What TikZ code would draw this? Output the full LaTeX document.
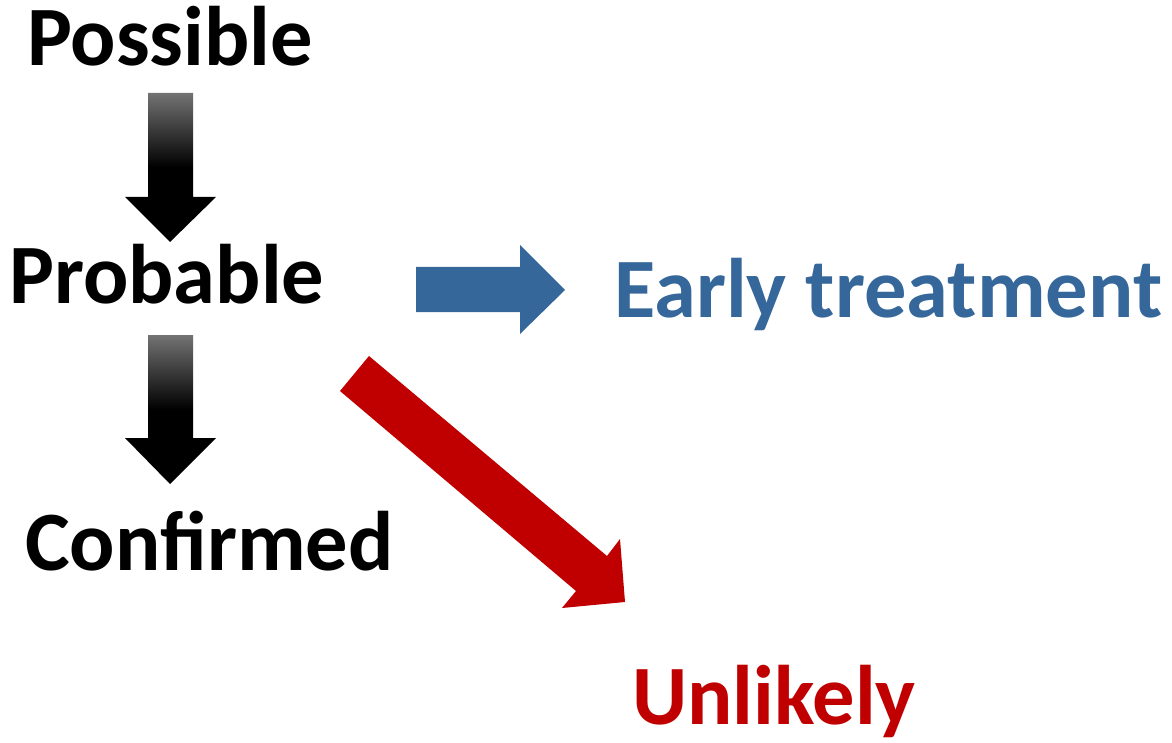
\documentclass[tikz,border=0pt]{standalone}
\usepackage{fontspec}
\setmainfont{Carlito}
\definecolor{tblue}{HTML}{35679A}
\definecolor{tred}{HTML}{C00000}
\begin{document}
\begin{tikzpicture}[x=1pt,y=-1pt,
  lbl/.style={font=\bfseries\fontsize{84.5}{90}\selectfont, inner sep=0pt, anchor=base west},
  darrow/.style={top color=black!55, bottom color=black, middle color=black, draw=none}]
\useasboundingbox (0,0) rectangle (1172,743);
\node[lbl] (possible) at (27,66) {Possible};
\node[lbl] (probable) at (9,303) {Probable};
\node[lbl] (confirmed) at (25,570) {Confirmed};
\node[lbl, text=tblue] (early) at (614,317) {Early treatment};
\node[lbl, text=tred] (unlikely) at (632,724) {Unlikely};
% down arrows
\shade[darrow] (148,93) -- (193,93) -- (193,197) -- (216,197) -- (170,242) -- (125,197) -- (148,197) -- cycle;
\shade[darrow] (148,335) -- (193,335) -- (193,438) -- (216,438) -- (170,484) -- (125,438) -- (148,438) -- cycle;
% blue arrow
\fill[tblue] (416,267) -- (520,267) -- (520,245) -- (565,290) -- (520,334) -- (520,312) -- (416,312) -- cycle;
% red arrow
\fill[tred] (340,391) -- (369,356) -- (607,556) -- (620,539) -- (625,602) -- (562,608) -- (576,591) -- cycle;
\end{tikzpicture}
\end{document}
